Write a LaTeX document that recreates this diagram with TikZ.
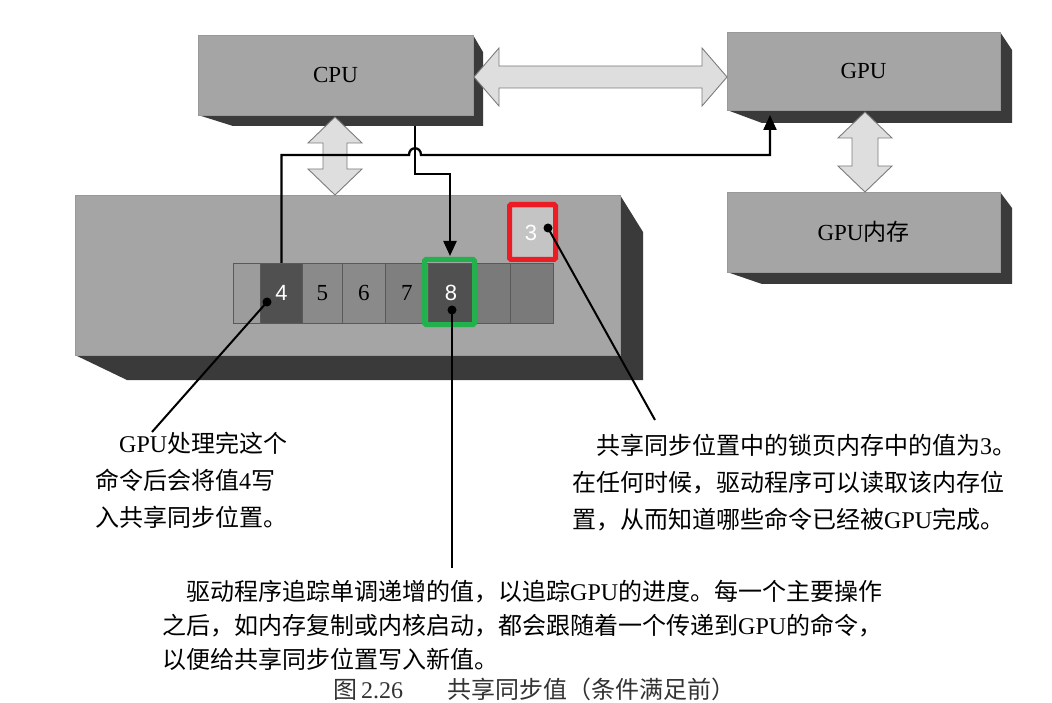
\documentclass[tikz,border=0pt]{standalone}
\usepackage{fontspec}
\setmainfont{Liberation Serif}
\newfontfamily\cjk{Noto Sans CJK SC}
\newfontfamily\asans{Liberation Sans}
\newcommand\latn[1]{{\rmfamily #1}}
\usetikzlibrary{calc,arrows.meta}
\definecolor{facegray}{HTML}{A5A5A5}
\definecolor{shadowgray}{HTML}{3A3A3A}
\definecolor{fatfill}{HTML}{DEDEDE}
\definecolor{fatdraw}{HTML}{7C7C7C}
\definecolor{cellmid}{HTML}{8A8A8A}
\definecolor{celldark}{HTML}{505050}
\definecolor{cellrt}{HTML}{7A7A7A}
\definecolor{celllight}{HTML}{9C9C9C}
\definecolor{cellthree}{HTML}{C4C4C4}
\definecolor{markred}{HTML}{EC1C24}
\definecolor{markgreen}{HTML}{22B14C}
\begin{document}
\begin{tikzpicture}[x=1pt,y=-1pt,
  face/.style={fill=facegray, draw=black!40, line width=0.6pt, inner sep=0},
  shadow/.style={fill=shadowgray},
  boxlabel/.style={font=\rmfamily\fontsize{23}{23}\selectfont},
  fat/.style={fill=fatfill, draw=fatdraw, line width=0.9pt, line join=miter},
  wire/.style={line width=2.3pt, line join=miter, -{Triangle[length=15pt,width=13pt]}},
  cell/.style={draw=black!65, line width=0.8pt, minimum height=60pt, inner sep=0, anchor=north west},
  wnum/.style={text=white, font=\asans\fontsize{22}{22}\selectfont},
  bnum/.style={text=black, font=\rmfamily\fontsize{23}{23}\selectfont},
  ptr/.style={line width=2pt},
  dot/.style={circle, fill=black, minimum size=9pt, inner sep=0},
  hilite/.style={draw=#1, line width=5pt, rounded corners=1.5pt},
  note/.style={font=\cjk\fontsize{24}{37}\selectfont, align=left, inner sep=0, anchor=north west},
]
\useasboundingbox (0,0) rectangle (1052,703);
\clip (0,0) rectangle (1052,703);
\fill[white] (0,0) rectangle (1052,703);

% ---- 3D boxes: shadows then fronts
\fill[shadow] (473,35) -- (483,52) -- (483,126) -- (233,126) -- (198,115) -- cycle;
\node[face, boxlabel, minimum width=275pt, minimum height=80pt] (cpu) at (335.5,75) {CPU};

\fill[shadow] (1000,32) -- (1012,50) -- (1012,123) -- (762,123) -- (727,110) -- cycle;
\node[face, boxlabel, minimum width=273pt, minimum height=78pt] (gpu) at (863.5,71) {GPU};

\fill[shadow] (1000,192) -- (1012,208) -- (1012,284) -- (762,284) -- (727,272) -- cycle;
\node[face, boxlabel, minimum width=273pt, minimum height=80pt] (gmem) at (863.5,232) {GPU{\cjk 内存}};

\fill[shadow] (620,195) -- (643,232) -- (643,380) -- (127,380) -- (75,355) -- cycle;
\node[face, minimum width=545pt, minimum height=160pt] (hmem) at (347.5,275) {};

% ---- fat double arrows
\draw[fat] (474,77) -- (499,48) -- (499,66) -- (702,66) -- (702,48) -- (727,77)
  -- (702,106) -- (702,88) -- (499,88) -- (499,106) -- cycle;
\draw[fat] (335,117) -- (362,143) -- (347,143) -- (347,169) -- (362,169) -- (335,195)
  -- (308,169) -- (323,169) -- (323,143) -- (308,143) -- cycle;
\draw[fat] (865,112) -- (892,138) -- (878,138) -- (878,166) -- (892,166) -- (865,192)
  -- (838,166) -- (852,166) -- (852,138) -- (838,138) -- cycle;

% ---- cells
\node[cell, fill=celllight, minimum width=27pt] (c0) at (233,263) {};
\node[cell, fill=celldark, minimum width=42pt] (c4) at (260,263) {};
\node[cell, fill=cellmid, minimum width=40pt] (c5) at (302,263) {};
\node[cell, fill=cellmid, minimum width=43pt] (c6) at (342,263) {};
\node[cell, fill=cellmid!92!black, minimum width=43pt] (c7) at (385,263) {};
\node[cell, fill=celldark, minimum width=45pt] (c8) at (428,263) {};
\node[cell, fill=cellrt, minimum width=37pt] (c9) at (473,263) {};
\node[cell, fill=cellrt, minimum width=43pt] (c10) at (510,263) {};
\node[wnum] at (c4.center) {4};
\node[bnum] at (c5.center) {5};
\node[bnum] at (c6.center) {6};
\node[bnum] at (c7.center) {7};
\node[wnum] at (c8.center) {8};
\node[cell, draw=none, fill=cellthree, minimum width=41pt, minimum height=49pt] (c3) at (512,208) {};
\node[wnum] at ($(c3.center)+(-2,0)$) {3};

% ---- wires
\coordinate (hopL) at (409,155);
\coordinate (hopR) at (421,155);
\coordinate (gin) at (770,115);
\coordinate (cpuout) at (415,126);
\coordinate (c8in) at (450,256);
\draw[wire] (c4.north) |- (hopL) .. controls (409,146) and (421,146) .. (hopR) -| (gin);
\draw[wire] (cpuout) -- (415,174) -| (c8in);

% ---- highlight frames
\draw[hilite=markred] (509.5,204.5) rectangle (555.5,259.5);
\draw[hilite=markgreen] (424.5,259.5) rectangle (474.5,324.5);

% ---- pointers
\node[dot] (d4) at (267,302) {};
\node[dot] (d8) at (452,310) {};
\node[dot] (d3) at (548,228) {};
\coordinate (p4) at (152,432);
\coordinate (p8) at (452,568);
\coordinate (p3) at (655,420);
\draw[ptr] (d4.center) -- (p4);
\draw[ptr] (d8.center) -- (p8);
\draw[ptr] (d3.center) -- (p3);

% ---- notes
\node[note] (n4) at (95,432) {\hspace*{1em}\latn{GPU}处理完这个\\命令后会将值\latn{4}写\\入共享同步位置。};
\node[note] (n3) at (572,434) {\hspace*{1em}共享同步位置中的锁页内存中的值为\latn{3}。\\在任何时候，驱动程序可以读取该内存位\\置，从而知道哪些命令已经被\latn{GPU}完成。};
\node[note, font=\cjk\fontsize{24}{34}\selectfont] (n8) at (162,580) {\hspace*{1em}驱动程序追踪单调递增的值，以追踪\latn{GPU}的进度。每一个主要操作\\之后，如内存复制或内核启动，都会跟随着一个传递到\latn{GPU}的命令，\\以便给共享同步位置写入新值。};
\node[note, font=\cjk\fontsize{24}{24}\selectfont, text=black!80] (cap) at (333,678) {图\,\latn{2.26}\hspace{44pt}共享同步值（条件满足前）};
\end{tikzpicture}
\end{document}
